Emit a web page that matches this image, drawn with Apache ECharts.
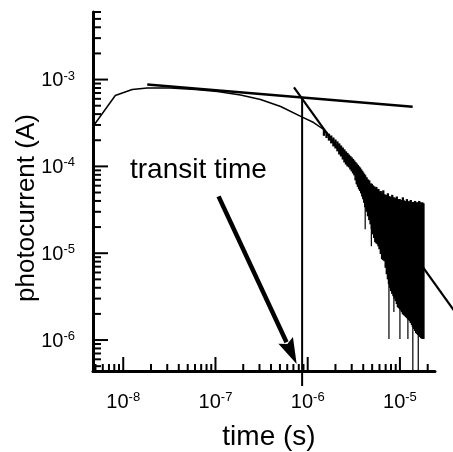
<!DOCTYPE html>
<html>
<head>
<meta charset="utf-8">
<script src="https://cdn.jsdelivr.net/npm/echarts@6/dist/echarts.min.js"></script>
<style>
html,body{margin:0;padding:0;background:#fff;}
#c{width:453px;height:452px;}
</style>
</head>
<body>
<div id="c"></div>
<script>
// ---- axis ranges ----
const X_MIN = 4.7e-9, X_MAX = 2.4e-5;
const Y_MIN = 4.4e-7, Y_MAX = 6e-3;

// ---- tick values ----
const xMajorTicks = [1e-8, 1e-7, 1e-6, 1e-5];
const xMinorTicks = [5e-9, 6e-9, 7e-9, 8e-9, 9e-9,
  2e-8, 3e-8, 4e-8, 5e-8, 6e-8, 7e-8, 8e-8, 9e-8,
  2e-7, 3e-7, 4e-7, 5e-7, 6e-7, 7e-7, 8e-7, 9e-7,
  2e-6, 3e-6, 4e-6, 5e-6, 6e-6, 7e-6, 8e-6, 9e-6,
  2e-5];
const yMajorTicks = [1e-6, 1e-5, 1e-4, 1e-3];
const yMinorTicks = [5e-7, 6e-7, 7e-7, 8e-7, 9e-7,
  2e-6, 3e-6, 4e-6, 5e-6, 6e-6, 7e-6, 8e-6, 9e-6,
  2e-5, 3e-5, 4e-5, 5e-5, 6e-5, 7e-5, 8e-5, 9e-5,
  2e-4, 3e-4, 4e-4, 5e-4, 6e-4, 7e-4, 8e-4, 9e-4,
  2e-3, 3e-3, 4e-3, 5e-3, 6e-3];

// ---- photocurrent trace (smooth part) ----
const traceX = [4.7e-9, 8.2e-9, 1.25e-8, 1.82e-8, 3.24e-8, 6.06e-8, 1.05e-7, 1.87e-7, 3.08e-7, 5.09e-7, 8.4e-7, 1.16e-6, 1.49e-6, 1.65e-6, 1.8e-6];
const traceY = [2.88e-4, 6.55e-4, 7.68e-4, 7.98e-4, 7.98e-4, 7.68e-4, 7.28e-4, 6.63e-4, 5.89e-4, 4.89e-4, 3.76e-4, 3.2e-4, 2.66e-4, 2.35e-4, 2.04e-4];

// ---- noisy tail: envelope of the signal at each time ----
const noiseX = [1.5e-6, 1.6e-6, 1.7e-6, 1.8e-6, 1.9e-6, 2.0e-6, 2.1e-6, 2.2e-6, 2.3e-6, 2.4e-6, 2.5e-6, 2.6e-6, 2.7e-6, 2.8e-6, 2.9e-6,
  3.0e-6, 3.1e-6, 3.2e-6, 3.3e-6, 3.4e-6, 3.5e-6, 3.6e-6, 3.7e-6, 3.8e-6, 3.9e-6, 4.0e-6, 4.1e-6, 4.2e-6, 4.35e-6, 4.5e-6, 4.65e-6, 4.8e-6, 4.95e-6, 5.1e-6,
  5.25e-6, 5.4e-6, 5.55e-6, 5.7e-6, 5.85e-6, 6.0e-6, 6.2e-6, 6.4e-6, 6.6e-6, 6.8e-6, 7.0e-6, 7.2e-6, 7.4e-6, 7.6e-6, 7.8e-6, 8.0e-6, 8.25e-6, 8.5e-6, 8.75e-6, 9.0e-6,
  9.25e-6, 9.5e-6, 9.75e-6, 1.0e-5, 1.025e-5, 1.05e-5, 1.075e-5, 1.1e-5, 1.13e-5, 1.16e-5, 1.19e-5, 1.22e-5, 1.25e-5, 1.28e-5, 1.31e-5, 1.35e-5, 1.38e-5, 1.42e-5, 1.46e-5, 1.5e-5,
  1.54e-5, 1.58e-5, 1.62e-5, 1.66e-5, 1.7e-5, 1.75e-5, 1.8e-5];
const noiseHigh = [2.7e-4, 2.5e-4, 2.38e-4, 2.27e-4, 2.15e-4, 2.04e-4, 1.94e-4, 1.84e-4, 1.74e-4, 1.65e-4, 1.57e-4, 1.49e-4, 1.43e-4, 1.37e-4, 1.32e-4,
  1.27e-4, 1.22e-4, 1.17e-4, 1.12e-4, 1.08e-4, 1.04e-4, 1.0e-4, 9.7e-5, 9.24e-5, 8.9e-5, 8.53e-5, 8.2e-5, 7.88e-5, 7.5e-5, 7.09e-5, 6.9e-5, 6.38e-5, 6.3e-5, 6.05e-5,
  5.9e-5, 5.74e-5, 5.8e-5, 5.44e-5, 5.5e-5, 5.16e-5, 5.2e-5, 4.89e-5, 5.3e-5, 4.77e-5, 4.7e-5, 4.64e-5, 4.9e-5, 4.52e-5, 4.5e-5, 4.4e-5, 4.7e-5, 4.4e-5, 4.35e-5, 4.29e-5,
  4.5e-5, 4.18e-5, 4.2e-5, 4.18e-5, 4.1e-5, 4.07e-5, 4.4e-5, 4.07e-5, 4.0e-5, 3.96e-5, 4.2e-5, 3.96e-5, 3.9e-5, 3.96e-5, 4.1e-5, 3.86e-5, 3.9e-5, 3.86e-5, 4.0e-5, 3.86e-5,
  3.8e-5, 3.86e-5, 4.0e-5, 3.86e-5, 3.8e-5, 3.86e-5, 3.76e-5];
const noiseLow = [2.25e-4, 2.12e-4, 1.98e-4, 1.84e-4, 1.7e-4, 1.61e-4, 1.49e-4, 1.37e-4, 1.3e-4, 1.2e-4, 1.11e-4, 1.05e-4, 1.0e-4, 9.74e-5, 9.2e-5,
  8.76e-5, 8.3e-5, 7.88e-5, 6.9e-5, 6.21e-5, 5.8e-5, 5.44e-5, 5.2e-5, 4.89e-5, 4.5e-5, 4.18e-5, 3.8e-5, 3.38e-5, 3.0e-5, 2.66e-5, 2.4e-5, 2.15e-5, 1.9e-5, 1.65e-5,
  1.5e-5, 1.34e-5, 1.3e-5, 1.27e-5, 1.2e-5, 1.11e-5, 9.8e-6, 8.53e-6, 8.3e-6, 8.09e-6, 6.8e-6, 5.74e-6, 5.0e-6, 4.4e-6, 4.0e-6, 3.66e-6, 3.4e-6, 3.2e-6, 3.0e-6, 2.81e-6,
  2.6e-6, 2.39e-6, 2.33e-6, 2.27e-6, 2.2e-6, 2.1e-6, 2.0e-6, 1.94e-6, 1.9e-6, 1.84e-6, 1.8e-6, 1.74e-6, 1.7e-6, 1.65e-6, 1.57e-6, 1.49e-6, 1.42e-6, 1.34e-6, 1.27e-6, 1.2e-6,
  1.17e-6, 1.14e-6, 1.11e-6, 1.08e-6, 1.05e-6, 1.03e-6, 1.03e-6];

// ---- isolated noise spikes ----
const spikeX    = [4.2e-6, 4.9e-6, 7.6e-6, 8.6e-6, 1.0e-5, 1.22e-5, 1.38e-5, 1.58e-5];
const spikeLow  = [1.89e-5, 1.2e-5, 1.03e-6, 2.1e-6, 1.03e-6, 1.03e-6, 4.5e-7, 4.5e-7];
const spikeHigh = [7.88e-5, 6.3e-5, 4.52e-5, 4.4e-5, 4.18e-5, 3.96e-5, 3.86e-5, 3.86e-5];

// ---- tangent lines and transit time marker ----
const flatLineX = [1.82e-8, 1.374e-5];
const flatLineY = [8.76e-4, 4.86e-4];
const steepLineX = [7.1e-7, 3.86e-5];
const steepLineY = [8.15e-4, 2.19e-6];
const transitX = [8.7e-7, 8.7e-7];
const transitY = [6.21e-4, 2.96e-7];
const arrowTail = [1.08e-7, 4.52e-5];
const arrowTip = [7.59e-7, 5.3e-7];

const FONT = 'Liberation Sans, Arial, Helvetica, sans-serif';

function powLabel(v) {
  const e = Math.log10(v);
  const r = Math.round(e);
  if (Math.abs(e - r) > 1e-6) return '';
  return '{b|10}{s|' + r + '}';
}
const richLabel = {
  b: { fontSize: 20, lineHeight: 22, fontFamily: FONT, color: '#000', verticalAlign: 'bottom' },
  s: { fontSize: 13, lineHeight: 15, fontFamily: FONT, color: '#000', verticalAlign: 'bottom', padding: [0, 0, 8, 0] }
};

function tickSeries(values, isX, len) {
  return {
    type: 'custom', clip: false, silent: true, z: 5,
    data: values.map(v => isX ? [v, Y_MIN] : [X_MIN, v]),
    renderItem: function (params, api) {
      const p = api.coord([api.value(0), api.value(1)]);
      const shape = isX ? { x1: p[0], y1: p[1], x2: p[0], y2: p[1] - len }
                        : { x1: p[0], y1: p[1], x2: p[0] + len, y2: p[1] };
      return { type: 'line', shape: shape, style: { stroke: '#000', lineWidth: 2 } };
    }
  };
}

function rangeSeries(xs, lows, highs, width) {
  return {
    type: 'custom', clip: true, silent: true,
    data: xs.map((x, i) => [x, lows[i], highs[i]]),
    encode: { x: 0, y: [1, 2] },
    renderItem: function (params, api) {
      const a = api.coord([api.value(0), api.value(1)]);
      const b = api.coord([api.value(0), api.value(2)]);
      return { type: 'line', shape: { x1: a[0], y1: a[1], x2: b[0], y2: b[1] }, style: { stroke: '#000', lineWidth: width } };
    }
  };
}

// polyline through data points, drawn via the axes' scales, not clipped to the grid
function polySeries(xs, ys, width) {
  return {
    type: 'custom', clip: false, silent: true,
    data: [xs.concat(ys)],
    renderItem: function (params, api) {
      const n = xs.length;
      const pts = [];
      for (let i = 0; i < n; i++) pts.push(api.coord([api.value(i), api.value(n + i)]));
      return { type: 'polyline', shape: { points: pts }, style: { stroke: '#000', lineWidth: width, fill: null, lineJoin: 'round' } };
    }
  };
}

const chart = echarts.init(document.getElementById('c'), null, { renderer: 'canvas' });
chart.setOption({
  animation: false,
  backgroundColor: '#fff',
  grid: { left: 93, right: 18, top: 12, bottom: 81, containLabel: false },
  xAxis: {
    type: 'log', min: X_MIN, max: X_MAX,
    axisLine: { onZero: false, lineStyle: { color: '#000', width: 3 } },
    axisTick: { show: false }, splitLine: { show: false }, minorTick: { show: false },
    axisLabel: { formatter: powLabel, rich: richLabel, margin: 19, showMinLabel: false, showMaxLabel: false }
  },
  yAxis: {
    type: 'log', min: Y_MIN, max: Y_MAX,
    axisLine: { onZero: false, lineStyle: { color: '#000', width: 3 } },
    axisTick: { show: false }, splitLine: { show: false }, minorTick: { show: false },
    axisLabel: { formatter: powLabel, rich: richLabel, margin: 18, showMinLabel: false, showMaxLabel: false }
  },
  graphic: [
    { type: 'text', x: 130, y: 170, style: { text: 'transit time', fontSize: 28, fontFamily: FONT, fill: '#000', align: 'left', verticalAlign: 'middle' } },
    { type: 'text', x: 27, y: 208, rotation: Math.PI / 2, style: { text: 'photocurrent (A)', fontSize: 26, fontFamily: FONT, fill: '#000', align: 'center', verticalAlign: 'middle' } },
    { type: 'text', x: 269, y: 437, style: { text: 'time (s)', fontSize: 28, fontFamily: FONT, fill: '#000', align: 'center', verticalAlign: 'middle' } }
  ],
  series: [
    tickSeries(xMajorTicks, true, 14),
    tickSeries(xMinorTicks, true, 7),
    tickSeries(yMajorTicks, false, 15),
    tickSeries(yMinorTicks, false, 8),
    polySeries(traceX, traceY, 1.5),
    rangeSeries(spikeX, spikeLow, spikeHigh, 1.2),
    rangeSeries(noiseX, noiseLow, noiseHigh, 2.3),
    polySeries(flatLineX, flatLineY, 2.5),
    polySeries(steepLineX, steepLineY, 2.2),
    polySeries(transitX, transitY, 2),
    {
      type: 'custom', clip: false, silent: true, z: 6,
      data: [[arrowTail[0], arrowTail[1], arrowTip[0], arrowTip[1]]],
      encode: { x: [0, 2], y: [1, 3] },
      renderItem: function (params, api) {
        const t = api.coord([api.value(0), api.value(1)]);
        const h = api.coord([api.value(2), api.value(3)]);
        const dx = h[0] - t[0], dy = h[1] - t[1];
        const L = Math.sqrt(dx * dx + dy * dy);
        const ux = dx / L, uy = dy / L;
        const headLen = 26, halfW = 8;
        const bx = h[0] - ux * headLen, by = h[1] - uy * headLen;
        return {
          type: 'group',
          children: [
            { type: 'line', shape: { x1: t[0], y1: t[1], x2: bx + ux * 2, y2: by + uy * 2 }, style: { stroke: '#000', lineWidth: 4.5 } },
            { type: 'polygon', shape: { points: [[h[0], h[1]], [bx - uy * halfW, by + ux * halfW], [bx + ux * 4, by + uy * 4], [bx + uy * halfW, by - ux * halfW]] }, style: { fill: '#000' } }
          ]
        };
      }
    }
  ]
});
</script>
</body>
</html>
